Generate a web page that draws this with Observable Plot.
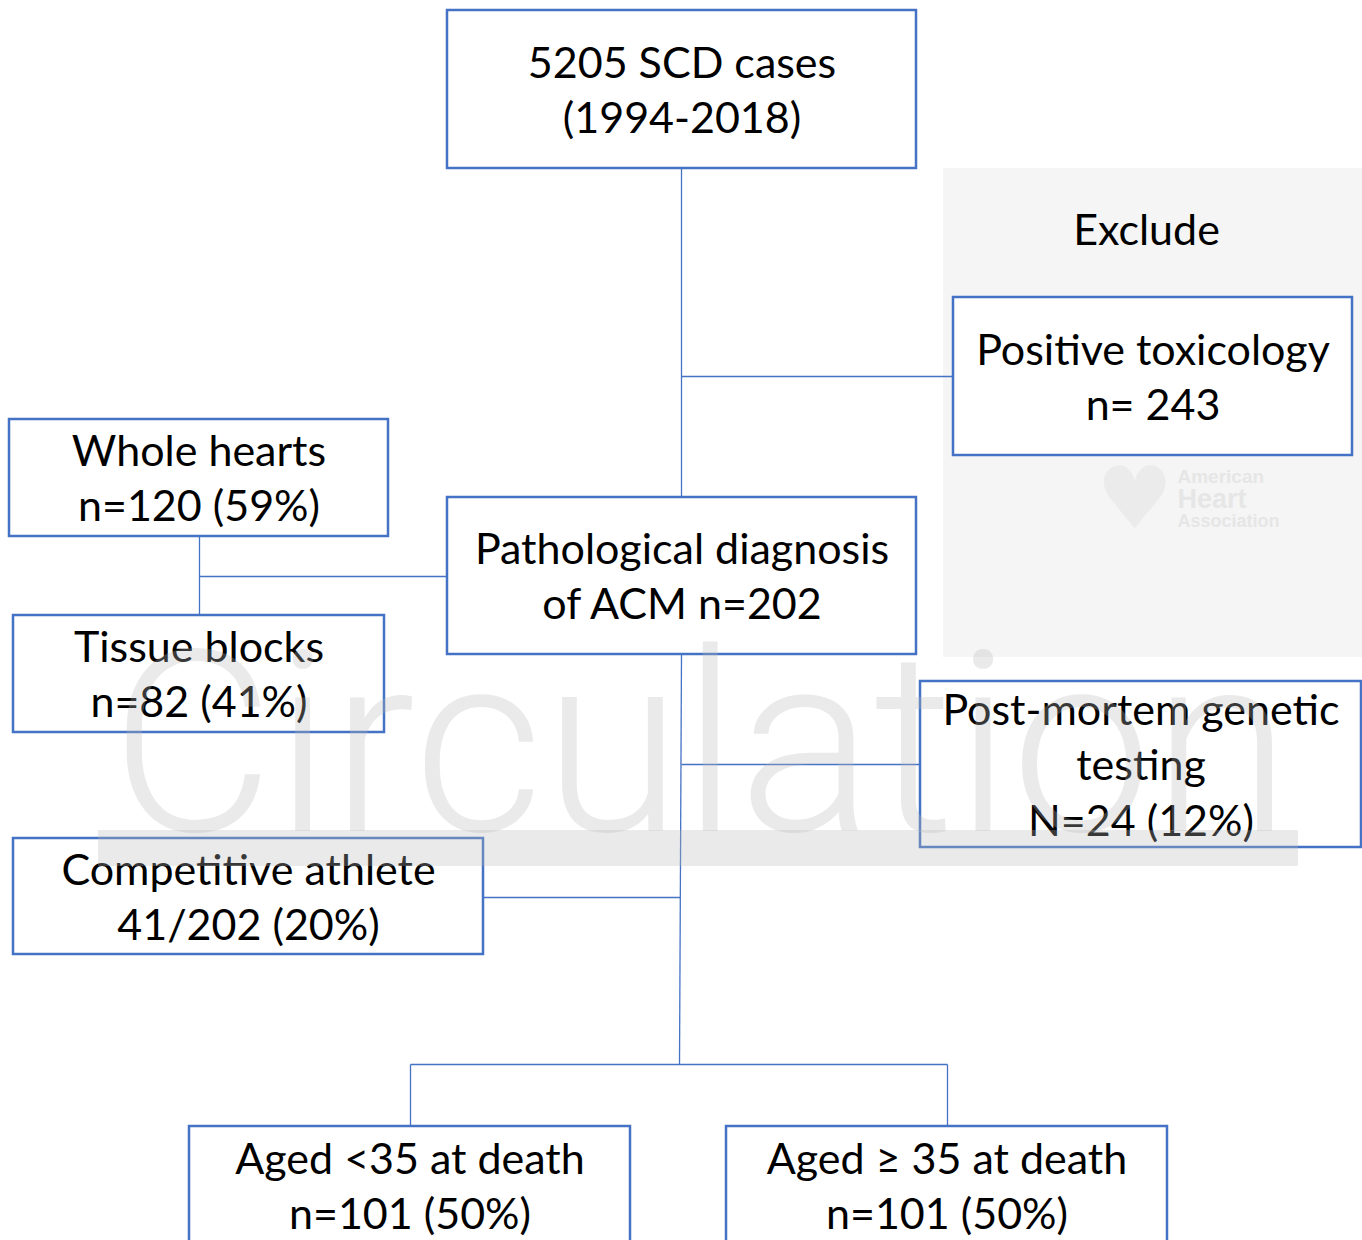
<!DOCTYPE html>
<html><head><meta charset="utf-8">
<script src="https://cdn.jsdelivr.net/npm/d3@7"></script>
<script src="https://cdn.jsdelivr.net/npm/@observablehq/plot@0.6"></script>
<style>body{margin:0;background:#fff;overflow:hidden}</style>
</head><body><div id="chart"></div>
<script>
// ---- content (flowchart nodes) ----
const nodeIds = ["all", "tox", "whole", "path", "tissue", "genetic", "athlete", "young", "old"];
const nodeLabels = [
  "5205 SCD cases\n(1994-2018)",
  "Positive toxicology\nn= 243",
  "Whole hearts\nn=120 (59%)",
  "Pathological diagnosis\nof ACM n=202",
  "Tissue blocks\nn=82 (41%)",
  "Post-mortem genetic\ntesting\nN=24 (12%)",
  "Competitive athlete\n41/202 (20%)",
  "Aged <35 at death\nn=101 (50%)",
  "Aged \u2265 35 at death\nn=101 (50%)"
];
const excludeLabel = "Exclude";
const watermarkLabel = "Circulation";
const logoLines = ["American", "Heart", "Association"];

// ---- layout (pixel frame of the diagram) ----
const boxLeft   = [447, 953,   9, 447,  13, 920,  13, 189, 726];
const boxRight  = [916, 1352, 388, 916, 384, 1361, 483, 630, 1167];
const boxTop    = [10,  297, 419, 497, 615, 681, 838, 1126, 1126];
const boxBottom = [168, 455, 536, 654, 732, 847, 954, 1244, 1244];

const linkX1 = [681, 681, 199, 199, 681, 681, 483, 410, 410, 947];
const linkY1 = [168, 376, 576, 536, 654, 764, 897, 1064, 1064, 1064];
const linkX2 = [681, 953, 447, 199, 679, 920, 680, 947, 410, 947];
const linkY2 = [497, 376, 576, 615, 1064, 764, 897, 1064, 1126, 1126];

const W = 1362, H = 1240;
const blue = "#4472c4";
const font = "Lato, 'Open Sans', sans-serif";

const boxes = nodeIds.map((id, i) => ({
  id, label: nodeLabels[i],
  x1: boxLeft[i], x2: boxRight[i], y1: boxTop[i], y2: boxBottom[i]
}));
const links = linkX1.map((_, i) => ({x1: linkX1[i], y1: linkY1[i], x2: linkX2[i], y2: linkY2[i]}));

const chart = Plot.plot({
  width: W, height: H, margin: 0,
  style: {fontFamily: font, background: "#fff"},
  x: {domain: [0, W], axis: null},
  y: {domain: [0, H], reverse: true, axis: null},
  marks: [
    // grey "exclude" panel
    Plot.rect([{x1: 943, x2: 1362, y1: 168, y2: 657}], {x1: "x1", x2: "x2", y1: "y1", y2: "y2", fill: "#f5f5f5"}),
    // faint AHA logo
    Plot.text(["\u2665"], {x: 1134, y: 500, text: d => d, fontSize: 86, fill: "#ebebeb", fontFamily: "DejaVu Sans", lineAnchor: "middle"}),
    Plot.text(logoLines, {
      x: 1177, y: (d, i) => [476, 499, 521][i], text: d => d,
      fontSize: (d, i) => [19, 27, 18][i], fontWeight: "bold", fill: "#e6e6e6",
      textAnchor: "start", lineAnchor: "middle", fontFamily: "Liberation Sans"
    }),
    Plot.text([excludeLabel], {x: 1146, y: 231, text: d => d, fontSize: 43, fill: "#000", lineAnchor: "middle", fontFamily: font}),
    // connectors
    Plot.link(links, {x1: "x1", y1: "y1", x2: "x2", y2: "y2", stroke: blue, strokeWidth: 1.3}),
    // boxes
    Plot.rect(boxes, {x1: "x1", x2: "x2", y1: "y1", y2: "y2", fill: "#fff", stroke: blue, strokeWidth: 2.5}),
    Plot.text(boxes, {
      x: d => (d.x1 + d.x2) / 2, y: d => (d.y1 + d.y2) / 2 - 2,
      text: "label", fontSize: 43, lineHeight: 1.29, fill: "#000",
      lineAnchor: "middle", textAnchor: "middle", fontFamily: font
    }),
    // watermark
    Plot.rect([{x1: 98, x2: 1298, y1: 830, y2: 866}], {x1: "x1", x2: "x2", y1: "y1", y2: "y2", fill: "#b8b8b8", fillOpacity: 0.3}),
    Plot.text([watermarkLabel], {
      x: 110, y: 830, text: d => d, fontSize: 252, fontWeight: 300, fill: "#b8b8b8", fillOpacity: 0.3,
      textAnchor: "start", lineAnchor: "bottom", fontFamily: "Roboto, 'Liberation Sans'"
    })
  ]
});
document.getElementById("chart").appendChild(chart);
</script>
</body></html>
